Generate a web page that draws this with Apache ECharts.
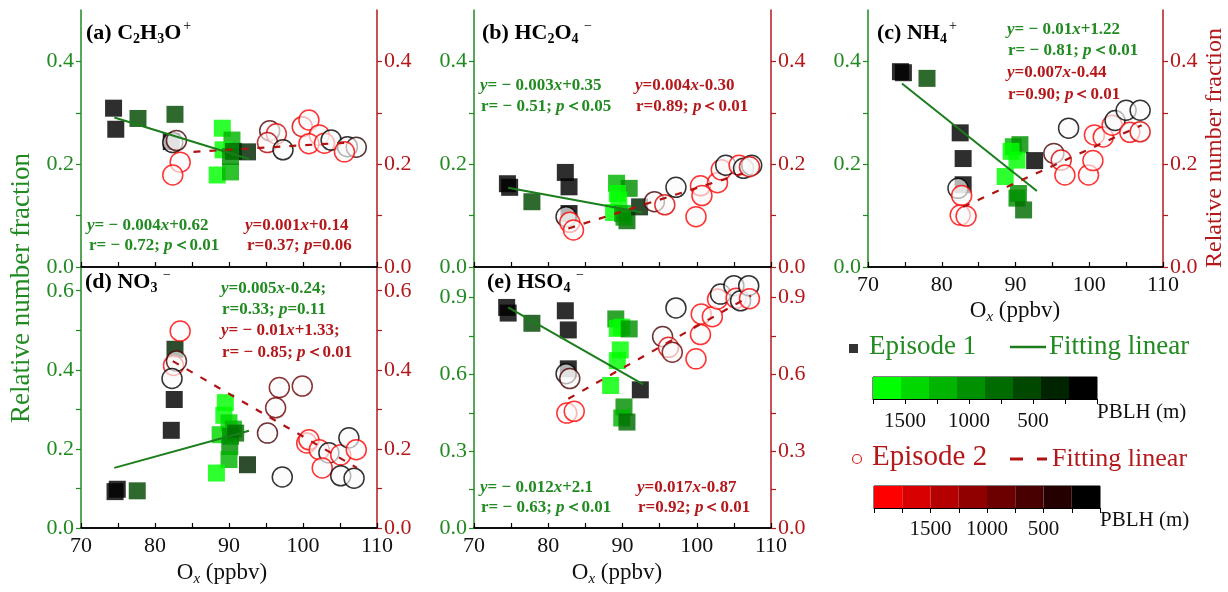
<!DOCTYPE html>
<html>
<head>
<meta charset="utf-8">
<title>Ox vs relative number fraction</title>
<script src="https://cdn.jsdelivr.net/npm/echarts@6/dist/echarts.min.js"></script>
<style>
  html, body { margin: 0; padding: 0; background: #fff; }
  #main { width: 1228px; height: 592px; }
</style>
</head>
<body>
<div id="main"></div>
<script>
// points are [Ox (ppbv), relative number fraction, PBLH (m)]
var ep1A = [[74.4,0.309,100],[74.7,0.268,100],[77.7,0.289,550],[82.7,0.297,450],[82.2,0.244,150],
  [89.1,0.270,1650],[88.4,0.179,1650],[90.2,0.185,1200],[90.4,0.247,1300],[89.2,0.228,1650],
  [90.2,0.215,1000],[90.6,0.225,700],[92.5,0.224,300]];
var ep2A = [[82.4,0.242,100],[82.9,0.246,700],[83.4,0.204,1800],[82.4,0.179,1800],
  [95.5,0.265,700],[96.4,0.259,1600],[95.2,0.242,1400],[97.3,0.228,200],
  [99.9,0.273,1700],[100.8,0.286,1800],[102.2,0.257,1800],[100.8,0.240,1800],[102.9,0.241,1800],
  [103.8,0.247,100],[106.0,0.234,100],[107.2,0.233,300],[105.6,0.224,1800]];

var ep1B = [[74.5,0.162,100],[74.8,0.155,100],[77.8,0.127,550],[82.3,0.184,100],[82.8,0.156,100],[82.8,0.104,150],
  [89.2,0.163,1100],[90.9,0.153,1000],[89.3,0.143,1650],[89.5,0.130,1650],[88.8,0.106,1650],
  [90.0,0.104,1300],[90.6,0.090,800],[90.2,0.097,1000],[92.3,0.117,300]];
var ep2B = [[82.4,0.098,100],[82.9,0.087,1800],[83.4,0.072,1800],
  [94.3,0.127,700],[95.7,0.121,1600],[97.2,0.155,200],
  [99.9,0.098,1800],[100.5,0.158,1800],[100.7,0.139,1800],[102.8,0.164,1800],[103.3,0.189,1800],
  [103.9,0.198,100],[105.7,0.198,1800],[106.3,0.192,100],[107.4,0.198,100],[107.1,0.195,1700]];

var ep1C = [[74.4,0.380,100],[74.8,0.378,100],[78.0,0.367,550],[82.5,0.261,100],[82.9,0.211,100],[82.9,0.160,100],
  [89.7,0.234,1300],[90.6,0.238,1000],[89.4,0.225,1650],[90.2,0.208,1650],[88.6,0.176,1650],
  [90.2,0.134,1000],[90.4,0.143,1000],[91.1,0.111,700],[92.6,0.207,200]];
var ep2C = [[82.2,0.153,100],[82.7,0.139,1800],[82.5,0.101,1800],[83.3,0.099,1800],
  [95.2,0.221,700],[96.2,0.208,1700],[96.7,0.179,1800],[97.2,0.270,200],
  [99.9,0.179,1800],[100.5,0.207,1800],[100.7,0.257,1800],[101.9,0.253,1800],[103.1,0.276,1800],
  [103.5,0.285,100],[105.0,0.305,100],[105.5,0.262,1800],[106.9,0.305,100],[106.9,0.263,1700]];

var ep1D = [[74.6,0.092,100],[74.9,0.098,100],[77.6,0.094,550],[82.7,0.452,400],[82.6,0.325,100],[82.2,0.247,100],
  [89.5,0.317,1650],[89.3,0.285,1650],[90.0,0.266,1400],[90.6,0.250,1200],[88.8,0.236,1400],
  [90.2,0.232,1000],[90.9,0.240,800],[90.1,0.206,1000],[90.0,0.173,1200],[88.3,0.139,1650],[92.5,0.160,300]];
var ep2D = [[83.4,0.498,1800],[82.5,0.411,1800],[82.9,0.422,700],[82.3,0.378,100],
  [96.8,0.355,900],[96.3,0.304,900],[95.2,0.240,700],[97.2,0.129,200],
  [99.9,0.359,900],[100.5,0.215,1800],[100.8,0.223,1800],[102.2,0.198,1800],[103.5,0.190,100],[102.6,0.152,1800],
  [105.1,0.185,1800],[105.1,0.132,100],[106.2,0.228,100],[107.2,0.198,1800],[106.9,0.126,100]];

var ep1E = [[74.4,0.862,100],[74.6,0.840,100],[77.8,0.800,550],[82.3,0.849,100],[82.7,0.774,100],[82.7,0.622,200],
  [89.1,0.817,1000],[89.3,0.780,1650],[89.9,0.785,1650],[90.9,0.778,1000],[89.7,0.696,1650],
  [89.3,0.654,1650],[88.4,0.557,1650],[90.2,0.473,1000],[89.9,0.430,1200],[90.6,0.414,700],[92.4,0.540,200]];
var ep2E = [[82.4,0.603,100],[82.9,0.584,700],[82.5,0.449,1800],[83.5,0.456,1800],
  [95.4,0.748,700],[96.2,0.706,1600],[96.7,0.687,900],[97.2,0.860,200],
  [99.9,0.661,1800],[100.5,0.756,1800],[100.6,0.836,1800],[102.1,0.826,1800],[102.8,0.895,1800],
  [103.2,0.914,100],[105.0,0.947,100],[105.3,0.898,1800],[105.9,0.888,100],[107.0,0.947,100],[107.1,0.896,1800]];

// fitting lines, end points as drawn
var fitA1 = [[74.5,0.291],[92.7,0.210]], fitA2 = [[85.2,0.224],[106.0,0.242]];
var fitB1 = [[74.6,0.154],[92.7,0.106]], fitB2 = [[82.7,0.075],[107.3,0.187]];
var fitC1 = [[74.6,0.357],[92.9,0.148]], fitC2 = [[82.9,0.117],[107.1,0.276]];
var fitD1 = [[74.5,0.152],[92.7,0.246]], fitD2 = [[82.4,0.422],[107.3,0.152]];
var fitE1 = [[74.6,0.862],[92.8,0.561]], fitE2 = [[82.7,0.505],[107.3,0.908]];

// PBLH colour scales (dark = low PBLH)
var greenSteps = ['#000000','#002400','#004800','#006c00','#009000','#00b400','#00d800','#00ff00'];
var redSteps = ['#000000','#240000','#480000','#6c0000','#900000','#b40000','#d80000','#ff0000'];
var pblhMax1 = 1750, pblhMax2 = 2000;
var pblhLabels = [500, 1000, 1500];

var FONT = '"Liberation Serif","Times New Roman",serif';
var GREEN = '#218a21', RED = '#b3181b', LINE_G = '#1b7d1b', LINE_R = '#b01212';

function stepColor(steps, max, h) {
  var i = Math.floor(h / max * steps.length);
  return steps[Math.max(0, Math.min(steps.length - 1, i))];
}

var panels = [
  {ep1: ep1A, ep2: ep2A, fit1: fitA1, fit2: fitA2, ymax: 0.5, step: 0.1, every: 0.2, xlab: false,
   grid: {left: 81, top: 10, width: 296, height: 257}},
  {ep1: ep1B, ep2: ep2B, fit1: fitB1, fit2: fitB2, ymax: 0.5, step: 0.1, every: 0.2, xlab: false,
   grid: {left: 474, top: 10, width: 297, height: 257}},
  {ep1: ep1C, ep2: ep2C, fit1: fitC1, fit2: fitC2, ymax: 0.5, step: 0.1, every: 0.2, xlab: true,
   grid: {left: 868, top: 10, width: 295, height: 257}},
  {ep1: ep1D, ep2: ep2D, fit1: fitD1, fit2: fitD2, ymax: 0.66, step: 0.1, every: 0.2, xlab: true,
   grid: {left: 81, top: 267, width: 296, height: 261}},
  {ep1: ep1E, ep2: ep2E, fit1: fitE1, fit2: fitE2, ymax: 1.02, step: 0.15, every: 0.3, xlab: true,
   grid: {left: 474, top: 267, width: 297, height: 261}}
];

var grids = [], xAxes = [], yAxes = [], series = [];

function yAxisFor(p, side, color) {
  return {
    type: 'value', gridIndex: grids.length - 1, position: side,
    min: 0, max: p.ymax, interval: p.step,
    axisLine: {show: true, lineStyle: {color: color, width: 1.5}},
    axisTick: {show: true, inside: false, length: 5, lineStyle: {color: color, width: 1.2}},
    axisLabel: {
      color: color, fontSize: 22, fontFamily: FONT, margin: 7, showMaxLabel: false,
      formatter: function (v) {
        var k = v / p.every;
        return Math.abs(k - Math.round(k)) < 1e-6 ? v.toFixed(1) : '';
      }
    },
    splitLine: {show: false}
  };
}

panels.forEach(function (p, i) {
  grids.push(Object.assign({show: false, containLabel: false, outerBoundsMode: 'none'}, p.grid));
  xAxes.push({
    type: 'value', gridIndex: i, position: 'bottom', min: 70, max: 110, interval: 5,
    axisLine: {show: true, lineStyle: {color: '#000', width: 1.5}},
    axisTick: {show: true, inside: true, length: 5, lineStyle: {color: '#000', width: 1.2}},
    axisLabel: {
      show: p.xlab, color: '#111', fontSize: 22, fontFamily: FONT, margin: 7,
      formatter: function (v) { return v % 10 === 0 ? String(v) : ''; }
    },
    splitLine: {show: false}
  });
  xAxes.push({
    type: 'value', gridIndex: i, position: 'top', min: 70, max: 110,
    axisLine: {show: true, lineStyle: {color: '#000', width: 1.5}},
    axisTick: {show: false}, axisLabel: {show: false}, splitLine: {show: false}
  });
  yAxes.push(yAxisFor(p, 'left', GREEN));
  yAxes.push(yAxisFor(p, 'right', RED));

  series.push({
    type: 'scatter', xAxisIndex: 2 * i, yAxisIndex: 2 * i, symbol: 'rect', symbolSize: 17, z: 2,
    itemStyle: {opacity: 0.82},
    data: p.ep1.map(function (d) {
      return {value: [d[0], d[1]], itemStyle: {color: stepColor(greenSteps, pblhMax1, d[2])}};
    })
  });
  series.push({
    type: 'scatter', xAxisIndex: 2 * i, yAxisIndex: 2 * i + 1, symbol: 'circle', symbolSize: 20, z: 3,
    itemStyle: {color: 'rgba(250,250,250,0.82)', borderWidth: 1.5},
    data: p.ep2.map(function (d) {
      return {value: [d[0], d[1]], itemStyle: {borderColor: stepColor(redSteps, pblhMax2, d[2])}};
    })
  });
  series.push({
    type: 'line', xAxisIndex: 2 * i, yAxisIndex: 2 * i, data: p.fit1, symbol: 'none', z: 4,
    lineStyle: {color: LINE_G, width: 2}
  });
  series.push({
    type: 'line', xAxisIndex: 2 * i, yAxisIndex: 2 * i + 1, data: p.fit2, symbol: 'none', z: 4,
    lineStyle: {color: LINE_R, width: 2.2, type: [7, 9]}
  });
});

// colour bars for PBLH
var bars = [
  {steps: greenSteps, max: pblhMax1, margin: 12, grid: {left: 873, top: 377, width: 224, height: 22}},
  {steps: redSteps, max: pblhMax2, margin: 11, grid: {left: 874, top: 486, width: 226, height: 22}}
];
bars.forEach(function (b) {
  var gi = grids.length;
  grids.push(Object.assign({show: true, borderColor: '#000', borderWidth: 1, containLabel: false, outerBoundsMode: 'none'}, b.grid));
  xAxes.push({
    type: 'value', gridIndex: gi, min: 0, max: b.max, interval: 250, inverse: true,
    axisLine: {show: true, lineStyle: {color: '#000', width: 1}},
    axisTick: {show: true, inside: false, length: 5, lineStyle: {color: '#000'}},
    axisLabel: {
      color: '#111', fontSize: 21, fontFamily: FONT, margin: b.margin,
      formatter: function (v) { return pblhLabels.indexOf(v) >= 0 ? String(v) : ''; }
    },
    splitLine: {show: false}
  });
  yAxes.push({type: 'value', gridIndex: gi, min: 0, max: 1, show: false, splitLine: {show: false}});
  var n = b.steps.length;
  series.push({
    type: 'custom', xAxisIndex: xAxes.length - 1, yAxisIndex: yAxes.length - 1,
    encode: {x: [0, 1]},
    data: b.steps.map(function (c, k) { return [b.max * k / n, b.max * (k + 1) / n, k]; }),
    renderItem: function (params, api) {
      var a = api.coord([api.value(0), 0]);
      var c = api.coord([api.value(1), 1]);
      return {
        type: 'rect',
        shape: {x: Math.min(a[0], c[0]), y: c[1], width: Math.abs(c[0] - a[0]), height: a[1] - c[1]},
        style: {fill: b.steps[api.value(2)]}
      };
    }
  });
});

// rich text helpers
function eqRich(s) {
  var out = '', buf = '';
  for (var ch of s) {
    if ('yxp'.indexOf(ch) >= 0) {
      if (buf) out += '{n|' + buf + '}';
      buf = '';
      out += '{i|' + ch + '}';
    } else buf += ch;
  }
  if (buf) out += '{n|' + buf + '}';
  return out;
}
function noteEl(x, y, color, s) {
  return {
    type: 'text', x: x, y: y,
    style: {
      text: eqRich(s), align: 'left', verticalAlign: 'middle', fontFamily: FONT,
      rich: {
        n: {fontSize: 17, fontWeight: 'bold', fontFamily: FONT, fill: color},
        i: {fontSize: 17, fontWeight: 'bold', fontStyle: 'italic', fontFamily: FONT, fill: color}
      }
    }
  };
}
var titleRich = {
  b: {fontSize: 22, fontWeight: 'bold', fontFamily: FONT, fill: '#000'},
  sb: {fontSize: 14, fontWeight: 'bold', fontFamily: FONT, fill: '#000', padding: [12, 0, 0, 0]},
  sp: {fontSize: 14, fontFamily: FONT, fill: '#000', padding: [0, 0, 14, 2]}
};
function titleEl(x, y, text) {
  return {type: 'text', x: x, y: y, style: {text: text, align: 'left', verticalAlign: 'middle', fontFamily: FONT, rich: titleRich}};
}
function oxEl(x, y) {
  return {
    type: 'text', x: x, y: y,
    style: {
      text: '{n|O}{s|x}{n| (ppbv)}', align: 'center', verticalAlign: 'middle', fontFamily: FONT,
      rich: {
        n: {fontSize: 23, fontFamily: FONT, fill: '#111'},
        s: {fontSize: 15, fontStyle: 'italic', fontFamily: FONT, fill: '#111', padding: [12, 0, 0, 0]}
      }
    }
  };
}
function plainText(x, y, text, size, color, align) {
  return {type: 'text', x: x, y: y,
    style: {text: text, fontSize: size, fontFamily: FONT, fill: color, align: align || 'left', verticalAlign: 'middle'}};
}

var graphics = [
  titleEl(86, 33, '{b|(a) C}{sb|2}{b|H}{sb|3}{b|O}{sp|+}'),
  titleEl(482, 33, '{b|(b) HC}{sb|2}{b|O}{sb|4}{sp| −}'),
  titleEl(877, 33, '{b|(c) NH}{sb|4}{sp|+}'),
  titleEl(85, 282, '{b|(d) NO}{sb|3}{sp| −}'),
  titleEl(487, 282, '{b|(e) HSO}{sb|4}{sp| −}'),

  noteEl(87, 226, GREEN, 'y= − 0.004x+0.62'),
  noteEl(89, 246, GREEN, 'r= − 0.72; p＜0.01'),
  noteEl(245, 226, RED, 'y=0.001x+0.14'),
  noteEl(247, 246, RED, 'r=0.37; p=0.06'),

  noteEl(480, 86, GREEN, 'y= − 0.003x+0.35'),
  noteEl(481, 107, GREEN, 'r= − 0.51; p＜0.05'),
  noteEl(635, 86, RED, 'y=0.004x-0.30'),
  noteEl(636, 107, RED, 'r=0.89; p＜0.01'),

  noteEl(1007, 30, GREEN, 'y= − 0.01x+1.22'),
  noteEl(1008, 51, GREEN, 'r= − 0.81; p＜0.01'),
  noteEl(1007, 73, RED, 'y=0.007x-0.44'),
  noteEl(1008, 95, RED, 'r=0.90; p＜0.01'),

  noteEl(221, 289, GREEN, 'y=0.005x-0.24;'),
  noteEl(222, 310, GREEN, 'r=0.33; p=0.11'),
  noteEl(221, 331, RED, 'y= − 0.01x+1.33;'),
  noteEl(222, 353, RED, 'r= − 0.85; p＜0.01'),

  noteEl(480, 488, GREEN, 'y= − 0.012x+2.1'),
  noteEl(481, 508, GREEN, 'r= − 0.63; p＜0.01'),
  noteEl(637, 488, RED, 'y=0.017x-0.87'),
  noteEl(638, 508, RED, 'r=0.92; p＜0.01'),

  oxEl(222, 573), oxEl(617, 573), oxEl(1015, 311),

  {type: 'text', x: 22, y: 288, rotation: Math.PI / 2,
   style: {text: 'Relative number fraction', fontSize: 27, fontFamily: FONT, fill: GREEN, align: 'center', verticalAlign: 'middle'}},
  {type: 'text', x: 1215, y: 148, rotation: Math.PI / 2,
   style: {text: 'Relative number fraction', fontSize: 24, fontFamily: FONT, fill: RED, align: 'center', verticalAlign: 'middle'}},

  // legend
  {type: 'rect', shape: {x: 849, y: 344, width: 9, height: 9}, style: {fill: '#333'}},
  plainText(869, 347, 'Episode 1', 27, GREEN),
  {type: 'line', shape: {x1: 1010, y1: 347, x2: 1046, y2: 347}, style: {stroke: LINE_G, lineWidth: 2.5}},
  plainText(1049, 347, 'Fitting linear', 27, GREEN),
  plainText(1097, 412, 'PBLH (m)', 21, '#111'),

  {type: 'circle', shape: {cx: 857, cy: 459, r: 4.5}, style: {fill: '#fff', stroke: '#e02020', lineWidth: 1.2}},
  plainText(872, 457, 'Episode 2', 29, RED),
  {type: 'line', shape: {x1: 1010, y1: 459, x2: 1047, y2: 459}, style: {stroke: LINE_R, lineWidth: 3, lineDash: [13, 14]}},
  plainText(1052, 459, 'Fitting linear', 26, RED),
  plainText(1100, 520, 'PBLH (m)', 21, '#111')
];

var chart = echarts.init(document.getElementById('main'));
chart.setOption({
  animation: false,
  backgroundColor: '#fff',
  grid: grids,
  xAxis: xAxes,
  yAxis: yAxes,
  series: series,
  graphic: graphics
});
</script>
</body>
</html>
